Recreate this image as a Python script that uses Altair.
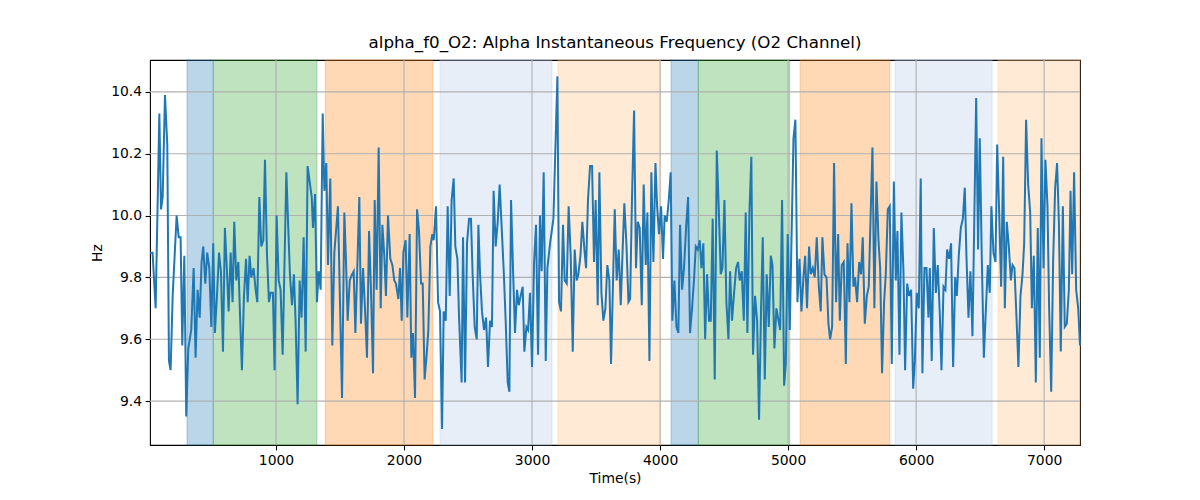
import altair as alt
import pandas as pd

# ---- data ----
time_s = [
    16, 36, 60, 89, 102, 115, 133, 151, 164, 177, 193, 224, 240, 255, 268, 284, 299, 315, 338, 357,
    372, 388, 404, 419, 432, 448, 463, 479, 495, 510, 523, 539, 555, 570, 586, 601, 617, 630, 646, 661,
    674, 690, 706, 719, 734, 750, 766, 779, 794, 807, 825, 841, 854, 870, 885, 901, 914, 930, 945, 958,
    976, 989, 1005, 1021, 1036, 1052, 1081, 1096, 1109, 1125, 1140, 1153, 1169, 1185, 1200, 1216, 1232, 1247,
    1263, 1279, 1289, 1305, 1320, 1333, 1349, 1365, 1378, 1393, 1406, 1424, 1440, 1456, 1469, 1484, 1500, 1516,
    1534, 1547, 1560, 1576, 1594, 1607, 1620, 1635, 1651, 1664, 1680, 1695, 1711, 1727, 1742, 1758, 1771, 1786,
    1802, 1818, 1831, 1846, 1859, 1875, 1893, 1909, 1924, 1937, 1956, 1969, 1982, 1995, 2013, 2026, 2044, 2057,
    2070, 2086, 2102, 2117, 2133, 2146, 2161, 2177, 2190, 2206, 2221, 2232, 2250, 2266, 2281, 2297, 2310, 2326,
    2341, 2357, 2372, 2388, 2401, 2417, 2430,
    2450, 2461, 2477, 2492, 2508, 2523, 2536, 2552, 2568, 2581, 2594, 2609, 2625, 2641, 2656, 2672, 2687, 2700,
    2716, 2732, 2747, 2763, 2779, 2794, 2810, 2823, 2836, 2852, 2867, 2883, 2896, 2911, 2927, 2940, 2956, 2969,
    2984, 3000, 3016, 3031, 3047, 3062, 3075, 3091, 3107, 3120, 3141, 3167, 3198, 3211, 3226, 3242, 3255, 3271,
    3286, 3302, 3318, 3333, 3349, 3362, 3378, 3393, 3409, 3422, 3437, 3453, 3469, 3484, 3497, 3513, 3526, 3542,
    3557, 3573, 3588, 3604, 3617, 3630, 3646, 3661,
    3677, 3693, 3706, 3721, 3737, 3753, 3766, 3781, 3797, 3812, 3826, 3841, 3857, 3872, 3888, 3901, 3917, 3932,
    3948, 3964, 3977, 3992, 4008, 4023, 4036, 4052, 4068, 4083, 4096, 4112, 4128, 4143, 4156, 4172, 4187, 4203,
    4219, 4234, 4250, 4266, 4279, 4294, 4310, 4323, 4338, 4352, 4367, 4383, 4396, 4411, 4427, 4443, 4458, 4474,
    4487, 4503, 4518, 4534, 4547, 4562, 4578, 4594, 4609, 4622, 4638, 4654, 4669, 4682, 4698, 4713, 4726, 4742,
    4758, 4773, 4789, 4802, 4818, 4833, 4849, 4865, 4878, 4893,
    4909, 4925, 4938, 4953, 4969, 4982, 4997, 5013, 5026, 5042, 5057, 5073, 5089, 5104, 5120, 5133, 5148, 5164,
    5177, 5193, 5208, 5224, 5240, 5255, 5268, 5284, 5300, 5315, 5328, 5344, 5359, 5375, 5391, 5404, 5419, 5435,
    5451, 5464, 5479, 5495, 5510, 5523, 5539, 5555, 5570, 5583, 5599, 5615, 5630, 5646, 5659, 5674, 5690, 5706,
    5719, 5734, 5750, 5763, 5779, 5794, 5810, 5826, 5841, 5854, 5870, 5885, 5901, 5914, 5930, 5945, 5961, 5977,
    5990, 6005, 6021, 6036, 6049, 6065, 6081, 6096,
    6107, 6122, 6138, 6154, 6169, 6185, 6198, 6214, 6229, 6242, 6258, 6273, 6289, 6305, 6318, 6333, 6349, 6365,
    6380, 6393, 6409, 6424, 6440, 6453, 6469, 6484, 6497, 6513, 6529, 6544, 6560, 6575, 6588, 6604, 6620, 6633,
    6648, 6664, 6680, 6693, 6708, 6724, 6740, 6753, 6768, 6784, 6799, 6815, 6831, 6844, 6859, 6875, 6891, 6904,
    6919, 6935, 6950, 6966, 6979, 6995, 7010, 7026, 7039, 7055, 7070, 7086, 7101, 7115, 7130, 7146, 7161, 7177,
    7193, 7206, 7219, 7234, 7250, 7266, 7280,
]

freq_hz = [
    9.88, 9.88, 9.70, 10.33, 10.02, 10.06, 10.39, 10.23, 9.53, 9.50, 9.74, 10.00, 9.93, 9.93, 9.58, 9.87, 9.35, 9.57, 9.63, 9.83,
    9.54, 9.76, 9.67, 9.85, 9.90, 9.78, 9.88, 9.83, 9.64, 9.91, 9.62, 9.74, 9.88, 9.82, 9.56, 9.96, 9.82, 9.69, 9.88, 9.72,
    9.98, 9.79, 9.85, 9.68, 9.50, 9.74, 9.86, 9.72, 9.87, 9.80, 9.83, 9.76, 9.72, 10.06, 9.90, 9.92, 10.18, 9.87, 9.72, 9.75,
    9.75, 9.50, 10.00, 9.79, 9.76, 9.55, 10.14, 9.96, 9.81, 9.71, 9.81, 9.66, 9.39, 9.79, 9.67, 9.93, 9.56, 10.16,
    10.11, 10.06, 9.96, 10.07, 9.72, 9.82, 9.76, 10.33, 10.08, 10.17, 9.84, 10.12, 9.58, 9.88, 9.95, 10.03, 9.72, 9.41,
    10.01, 9.85, 9.66, 9.79, 9.81, 9.82, 9.62, 9.83, 10.06, 9.65, 9.83, 9.70, 9.54, 9.95, 9.76, 9.49, 10.05, 9.76,
    10.22, 9.70, 9.97, 9.87, 9.74, 10.00, 9.86, 9.84, 9.79, 9.78, 9.73, 9.83, 9.66, 9.88, 9.92, 9.67, 9.94, 9.54,
    9.62, 9.41, 10.02, 9.95, 9.78, 9.78, 9.47, 9.55, 9.63, 9.90, 9.94, 9.92, 10.03, 9.72, 9.69, 9.31, 9.69, 9.66,
    10.03, 9.74, 10.05, 10.12, 9.90, 9.86, 9.67,
    9.46, 9.93, 9.46, 9.91, 9.99, 9.99, 9.81, 9.64, 9.60, 9.97, 9.81, 9.69, 9.63, 9.67, 9.51, 9.66, 9.64, 10.08,
    9.90, 9.98, 10.10, 9.96, 9.82, 9.66, 9.46, 9.43, 10.05, 9.82, 9.62, 9.76, 9.71, 9.74, 9.77, 9.56, 9.64, 9.63,
    9.75, 9.51, 9.85, 9.97, 9.55, 10.00, 9.82, 10.14, 9.53, 9.83, 9.91, 9.99, 10.45, 9.72, 9.69, 9.97, 9.79, 9.78,
    10.03, 9.87, 9.56, 9.89, 9.79, 9.81, 9.87, 9.98, 9.89, 9.83, 10.05, 10.16, 10.16, 9.85, 10.05, 9.71, 10.14, 9.75,
    9.66, 9.70, 9.84, 9.79, 9.52, 9.74, 10.02, 9.79,
    9.89, 9.71, 9.87, 10.04, 9.91, 9.72, 9.73, 10.06, 10.34, 9.83, 9.98, 9.96, 9.71, 10.10, 9.84, 10.01, 9.53, 10.14,
    9.85, 10.17, 10.03, 9.94, 10.03, 9.86, 10.00, 9.98, 10.05, 10.14, 9.66, 9.79, 9.64, 9.62, 9.97, 9.76, 9.83, 9.96,
    10.06, 9.62, 9.70, 9.80, 9.90, 9.89, 9.92, 9.83, 9.91, 9.60, 9.81, 9.66, 9.66, 9.99, 9.47, 10.21, 10.03, 9.81,
    9.83, 10.05, 9.72, 9.60, 9.82, 9.66, 9.75, 9.83, 9.85, 9.79, 9.82, 9.66, 10.01, 9.62, 10.01, 10.19, 9.55, 9.74,
    9.66, 9.34, 9.70, 9.93, 9.47, 9.81, 9.64, 9.87, 9.84, 9.57,
    9.70, 9.66, 9.63, 10.05, 9.45, 9.52, 9.94, 9.63, 9.91, 10.25, 10.31, 9.72, 9.86, 9.69, 9.80, 9.87, 9.70, 9.90,
    9.81, 9.83, 9.80, 9.93, 9.77, 9.69, 9.93, 9.81, 9.80, 9.65, 9.60, 9.64, 10.17, 9.72, 9.94, 9.66, 9.84, 9.85,
    9.52, 9.91, 9.72, 10.04, 9.77, 9.80, 9.72, 9.85, 9.81, 9.93, 9.65, 9.74, 9.77, 10.02, 10.22, 9.70, 10.11, 9.92,
    9.83, 9.49, 9.72, 9.81, 10.02, 10.03, 9.52, 10.11, 9.79, 9.95, 9.55, 10.01, 9.82, 9.50, 9.78, 9.74, 9.76, 9.44,
    9.53, 9.75, 9.70, 10.12, 9.49, 9.83, 9.83, 9.67,
    9.83, 9.53, 9.96, 9.75, 9.84, 9.68, 9.50, 9.77, 9.76, 9.89, 9.86, 9.91, 9.51, 9.80, 9.74, 9.87, 9.96, 9.99,
    10.09, 9.87, 9.67, 9.82, 9.61, 9.95, 10.38, 9.89, 10.25, 9.86, 9.54, 9.69, 9.84, 9.75, 10.03, 9.88, 9.85, 10.23,
    10.02, 9.77, 10.19, 9.70, 9.98, 9.90, 9.79, 9.84, 9.83, 9.67, 9.51, 9.74, 9.81, 9.91, 10.31, 10.10, 10.01, 9.70,
    9.87, 9.46, 9.96, 9.54, 10.25, 9.83, 10.18, 10.03, 9.70, 9.43, 9.85, 10.09, 10.17, 9.98, 9.56, 10.03, 9.64, 9.65,
    9.76, 10.08, 9.81, 10.14, 9.76, 9.70, 9.58,
]

span_start = [305, 510, 1385, 2281, 3203, 4086, 4299, 5094, 5836, 6641]
span_end = [510, 1320, 2224, 3156, 4005, 4299, 5013, 5794, 6594, 7280]
span_phase = ["A", "B", "C", "D", "E", "A", "B", "C", "D", "E"]
phase_names = ["A", "B", "C", "D", "E"]
phase_colors = ["#1f77b4", "#2ca02c", "#ff7f0e", "#aec7e8", "#ffbb78"]

x_ticks = [1000, 2000, 3000, 4000, 5000, 6000, 7000]
y_ticks = [9.4, 9.6, 9.8, 10.0, 10.2, 10.4]

x_domain = [16, 7280]
y_domain = [9.258, 10.503]

title_text = "alpha_f0_O2: Alpha Instantaneous Frequency (O2 Channel)"

# ---- tables ----
series = pd.DataFrame({"t": time_s, "f": freq_hz})
spans = pd.DataFrame({"t": span_start, "t_end": span_end, "phase": span_phase})
xg = pd.DataFrame({"t": x_ticks})
yg = pd.DataFrame({"f": y_ticks})

W, H = 930, 385
FONT = "DejaVu Sans"
xs = alt.Scale(domain=x_domain, nice=False, zero=False)
ys = alt.Scale(domain=y_domain, nice=False, zero=False)
x_axis = alt.Axis(values=x_ticks, format="d", grid=False)
y_axis = alt.Axis(values=y_ticks, format=".1f", grid=False)

span_layer = alt.Chart(spans).mark_rect(fillOpacity=0.3, strokeOpacity=0.3, strokeWidth=1.1).encode(
    x=alt.X("t:Q", scale=xs, axis=x_axis, title="Time(s)"),
    x2="t_end:Q",
    y=alt.value(0),
    y2=alt.value(H),
    color=alt.Color("phase:N", scale=alt.Scale(domain=phase_names, range=phase_colors), legend=None),
    stroke=alt.Stroke("phase:N", scale=alt.Scale(domain=phase_names, range=phase_colors), legend=None),
)

xgrid = alt.Chart(xg).mark_rule(color="#b0b0b0", strokeWidth=1.1).encode(
    x=alt.X("t:Q", scale=xs, axis=x_axis, title="Time(s)")
)
ygrid = alt.Chart(yg).mark_rule(color="#b0b0b0", strokeWidth=1.1).encode(
    y=alt.Y("f:Q", scale=ys, axis=y_axis, title="Hz")
)

line = alt.Chart(series).mark_line(color="#1f77b4", strokeWidth=2.0).encode(
    x=alt.X("t:Q", scale=xs, axis=x_axis, title="Time(s)"),
    y=alt.Y("f:Q", scale=ys, axis=y_axis, title="Hz"),
)

chart = alt.layer(span_layer, xgrid, ygrid, line).properties(
    width=W,
    height=H,
    title=alt.TitleParams(title_text, fontSize=16.7, font=FONT, fontWeight="normal",
                          anchor="middle", color="black", offset=8),
    autosize=alt.AutoSizeParams(type="none"),
    padding={"left": 142, "top": 52, "right": 100, "bottom": 40},
).configure_view(
    stroke="black", strokeWidth=1.1
).configure_axis(
    domain=False,
    labelFont=FONT, labelFontSize=13.9, labelColor="black",
    titleFont=FONT, titleFontSize=13.9, titleColor="black", titleFontWeight="normal",
    tickColor="black", tickWidth=1.1, tickSize=4.9, labelPadding=3.5,
).configure_axisX(
    titlePadding=4
).configure_axisY(
    titlePadding=6
)

chart.save("out.html", embed_options={"renderer": "svg", "actions": False})
